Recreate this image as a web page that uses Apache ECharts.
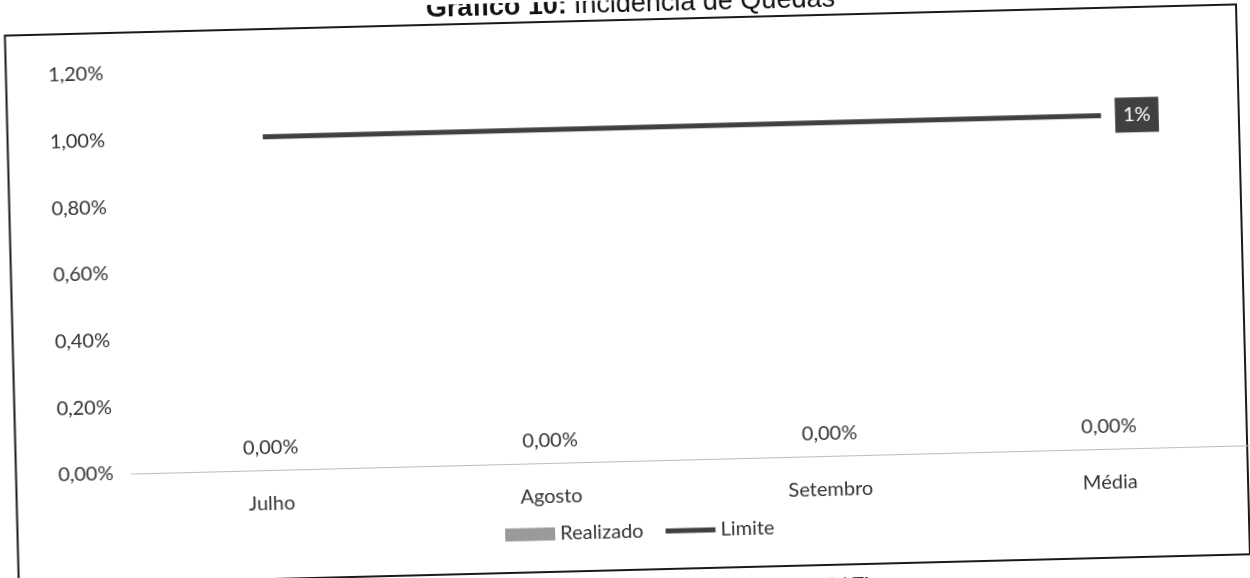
<!DOCTYPE html>
<html>
<head>
<meta charset="utf-8">
<script src="https://cdn.jsdelivr.net/npm/echarts@6/dist/echarts.min.js"></script>
<style>
  html, body { margin: 0; padding: 0; background: #fff; overflow: hidden; }
  #myChart {
    width: 1250px;
    height: 600px;
    transform-origin: 625px 289px;
    transform: rotate(-1.45deg);   /* a folha foi digitalizada torta */
  }
</style>
</head>
<body>
<div id="myChart"></div>
<script>
var categorias = ['Julho', 'Agosto', 'Setembro', 'Média'];
var realizado = [0, 0, 0, 0];
var limite = [0.01, 0.01, 0.01, 0.01];
var eixoY = { min: 0, max: 0.012, interval: 0.002 };

function pct (v, casas) {
  return (v * 100).toFixed(casas).replace('.', ',') + '%';
}

var fonte = 'Lato';
var corTexto = '#333333';

var myChart = echarts.init(document.getElementById('myChart'));
myChart.setOption({
  animation: false,
  textStyle: { fontFamily: fonte },
  grid: { left: 127, right: 5, top: 61, height: 400 },
  legend: {
    left: 494,
    top: 517,
    itemWidth: 50,
    itemHeight: 13,
    itemGap: 22,
    textStyle: { fontFamily: fonte, fontSize: 20, color: corTexto },
    data: [
      { name: 'Realizado', icon: 'rect' },
      { name: 'Limite', icon: 'path://M0,0 H50 V5 H0 Z' }
    ]
  },
  xAxis: {
    type: 'category',
    data: categorias,
    axisLine: { lineStyle: { color: '#bdbdbd', width: 1 } },
    axisTick: { show: false },
    axisLabel: { margin: 24, fontSize: 20, color: corTexto, fontFamily: fonte }
  },
  yAxis: {
    type: 'value',
    min: eixoY.min,
    max: eixoY.max,
    interval: eixoY.interval,
    splitLine: { show: false },
    axisLine: { show: false },
    axisTick: { show: false },
    axisLabel: {
      margin: 18,
      fontSize: 20,
      color: corTexto,
      fontFamily: fonte,
      formatter: function (v) { return pct(v, 2); }
    }
  },
  graphic: [
    {
      type: 'rect',
      shape: { x: 11.5, y: 20, width: 1231.5, height: 550 },
      style: { fill: 'none', stroke: '#1a1a1a', lineWidth: 2 },
      silent: true
    },
    {
      type: 'text',
      x: 574, y: 18,
      style: {
        text: 'Gráfico 10:',
        font: 'bold 27px "Liberation Sans", Arial',
        fill: '#111',
        textAlign: 'right',
        textVerticalAlign: 'bottom'
      }
    },
    {
      type: 'text',
      x: 581, y: 18,
      style: {
        text: 'Incidência de Quedas',
        font: '27px "Liberation Sans", Arial',
        fill: '#111',
        textAlign: 'left',
        textVerticalAlign: 'bottom'
      }
    },
    {
      type: 'text',
      x: 796, y: 581,
      style: {
        text: '(2017)',
        font: '24px "Liberation Sans", Arial',
        fill: '#111',
        textAlign: 'left',
        textVerticalAlign: 'top'
      }
    }
  ],
  series: [
    {
      name: 'Realizado',
      type: 'bar',
      barWidth: '36%',
      itemStyle: { color: '#9a9a9a' },
      label: {
        show: true,
        position: 'top',
        distance: 12,
        fontSize: 20,
        color: corTexto,
        fontFamily: fonte,
        formatter: function (p) { return pct(p.value, 2); }
      },
      data: realizado
    },
    {
      name: 'Limite',
      type: 'line',
      symbol: 'none',
      lineStyle: { color: '#404040', width: 5 },
      itemStyle: { color: '#404040' },
      endLabel: {
        show: true,
        distance: 14,
        fontSize: 20,
        color: '#ffffff',
        fontFamily: fonte,
        backgroundColor: '#404040',
        padding: [8, 8, 7, 8],
        formatter: function (p) { return pct(p.value, 0); }
      },
      data: limite
    }
  ]
});
</script>
</body>
</html>
